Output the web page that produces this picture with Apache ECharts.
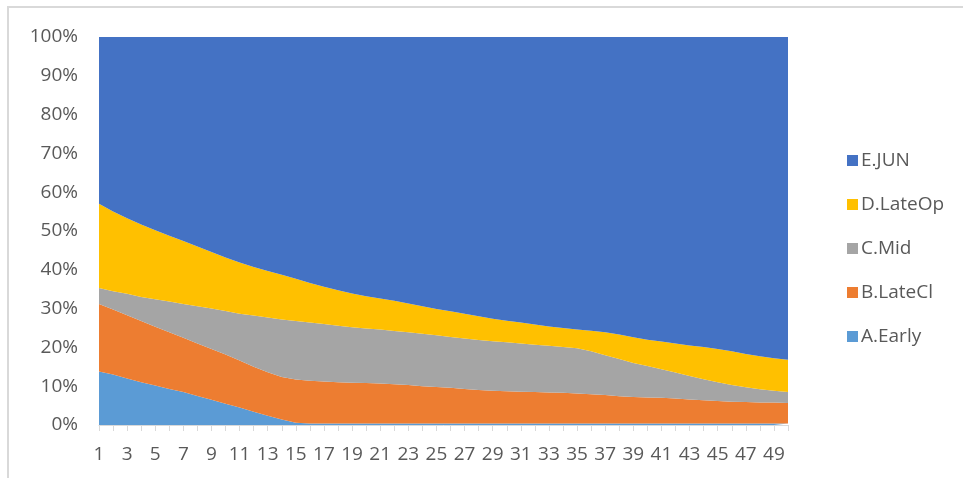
<!DOCTYPE html>
<html>
<head>
<meta charset="utf-8">
<script src="https://cdn.jsdelivr.net/npm/echarts@6/dist/echarts.min.js"></script>
<style>
  html, body { margin: 0; padding: 0; background: #ffffff; }
  #frame { position: absolute; left: 7px; top: 6px; width: 960px; height: 480px;
           border-top: 2px solid #d9d9d9; border-left: 2px solid #d9d9d9; }
  #chart { position: absolute; left: 0; top: 0; width: 963px; height: 478px; }
</style>
</head>
<body>
<div id="frame"></div>
<div id="chart"></div>
<script>
// Categories 1..50
const categories = [];
for (let i = 1; i <= 50; i++) categories.push(String(i));

// Share (%) of each group per category
const earlyA = [13.8, 13.0, 12.0, 11.0, 10.2, 9.3, 8.5, 7.5, 6.5, 5.5,
                4.5, 3.4, 2.4, 1.4, 0.6, 0.4, 0.4, 0.4, 0.4, 0.4,
                0.4, 0.4, 0.4, 0.4, 0.4, 0.4, 0.4, 0.4, 0.4, 0.4,
                0.4, 0.4, 0.4, 0.4, 0.4, 0.4, 0.4, 0.4, 0.4, 0.4,
                0.4, 0.4, 0.4, 0.4, 0.4, 0.4, 0.4, 0.4, 0.4, 0.4];
const lateClB = [17.4, 16.8, 16.3, 15.8, 15.1, 14.6, 14.0, 13.5, 13.1, 12.7,
                 12.1, 11.6, 11.2, 11.0, 11.1, 11.0, 10.8, 10.6, 10.5, 10.4,
                 10.3, 10.1, 9.9, 9.6, 9.4, 9.2, 8.9, 8.6, 8.4, 8.3,
                 8.2, 8.1, 8.0, 7.9, 7.7, 7.5, 7.3, 7.0, 6.8, 6.7,
                 6.6, 6.4, 6.2, 6.0, 5.8, 5.6, 5.5, 5.4, 5.4, 5.3];
const midC = [4.1, 4.7, 5.5, 6.2, 7.1, 7.9, 8.7, 9.6, 10.4, 11.2,
              12.1, 13.2, 14.1, 14.8, 15.1, 15.0, 14.8, 14.6, 14.3, 14.1,
              13.9, 13.7, 13.6, 13.5, 13.3, 13.1, 13.0, 12.9, 12.8, 12.6,
              12.4, 12.2, 12.0, 11.8, 11.7, 11.1, 10.3, 9.6, 8.8, 8.1,
              7.4, 6.7, 6.0, 5.4, 4.8, 4.3, 3.8, 3.4, 3.0, 2.8];
const lateOpD = [21.7, 20.5, 19.5, 18.7, 17.8, 17.0, 16.2, 15.4, 14.6, 13.8,
                 13.2, 12.5, 12.0, 11.5, 10.9, 10.2, 9.6, 9.1, 8.7, 8.3,
                 8.0, 7.8, 7.4, 7.1, 6.8, 6.6, 6.4, 6.1, 5.8, 5.6,
                 5.4, 5.2, 5.0, 4.9, 4.8, 5.3, 5.9, 6.3, 6.6, 6.8,
                 7.1, 7.5, 7.9, 8.3, 8.6, 8.7, 8.6, 8.5, 8.4, 8.3];
const junE = [43.0, 45.0, 46.7, 48.3, 49.8, 51.2, 52.6, 54.0, 55.4, 56.8,
              58.1, 59.3, 60.3, 61.3, 62.3, 63.4, 64.4, 65.3, 66.1, 66.8,
              67.4, 68.0, 68.7, 69.4, 70.1, 70.7, 71.3, 72.0, 72.6, 73.1,
              73.6, 74.1, 74.6, 75.0, 75.4, 75.7, 76.1, 76.7, 77.4, 78.0,
              78.5, 79.0, 79.5, 79.9, 80.4, 81.0, 81.7, 82.3, 82.8, 83.2];

const seriesNames = ['A.Early', 'B.LateCl', 'C.Mid', 'D.LateOp', 'E.JUN'];
const seriesData = [earlyA, lateClB, midC, lateOpD, junE];
const seriesColors = ['#5B9BD5', '#ED7D31', '#A5A5A5', '#FFC000', '#4472C4'];

const textFont = '"Open Sans", "Noto Sans", sans-serif';

const chart = echarts.init(document.getElementById('chart'), null, { renderer: 'canvas' });

chart.setOption({
  animation: false,
  backgroundColor: 'transparent',
  grid: { left: 99, right: 175, top: 37, bottom: 53, containLabel: false },
  legend: {
    orient: 'vertical',
    left: 842,
    top: 146,
    itemWidth: 11,
    itemHeight: 11,
    itemGap: 25,
    icon: 'rect',
    data: ['E.JUN', 'D.LateOp', 'C.Mid', 'B.LateCl', 'A.Early'],
    textStyle: { color: '#595959', fontSize: 19, fontFamily: textFont, padding: [0, 0, 0, -2] }
  },
  xAxis: {
    type: 'category',
    data: categories,
    boundaryGap: false,
    axisLine: { show: true, lineStyle: { color: '#d9d9d9', width: 1 } },
    axisTick: { show: true, interval: 0, length: 6, lineStyle: { color: '#d9d9d9' } },
    axisLabel: { interval: 1, color: '#595959', fontSize: 19, fontFamily: textFont, margin: 20 },
    splitLine: { show: false }
  },
  yAxis: {
    type: 'value',
    min: 0,
    max: 100,
    interval: 10,
    axisLine: { show: false },
    axisTick: { show: false },
    splitLine: { show: false },
    axisLabel: { formatter: '{value}%', color: '#595959', fontSize: 19, fontFamily: textFont, margin: 21 }
  },
  series: seriesNames.map((name, i) => ({
    name: name,
    type: 'line',
    stack: 'share',
    data: seriesData[i],
    symbol: 'none',
    smooth: false,
    lineStyle: { width: 0 },
    itemStyle: { color: seriesColors[i] },
    areaStyle: { color: seriesColors[i], opacity: 1 }
  }))
});
</script>
</body>
</html>
